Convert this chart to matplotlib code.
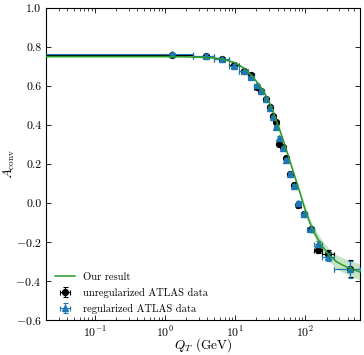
import matplotlib
matplotlib.use("Agg")
import matplotlib.pyplot as plt
import numpy as np

plt.rcParams['font.family'] = 'serif'
plt.rcParams['font.serif'] = ['cmr10']
plt.rcParams['mathtext.fontset'] = 'cm'
plt.rcParams['axes.formatter.use_mathtext'] = True
plt.rcParams['axes.unicode_minus'] = True

# bin edges (GeV)
edges = [0.0, 2.5, 5.0, 8.0, 11.4, 14.9, 18.6, 21.5, 25.5, 29.0, 32.6, 36.0, 40.0,
         44.4, 50.2, 56.4, 63.9, 73.4, 85.4, 105.0, 132.0, 173.0, 253.0, 600.0]

# regularized ATLAS data
reg_A = [0.765, 0.757, 0.739, 0.706, 0.677, 0.645, 0.605, 0.577, 0.535, 0.490, 0.440,
         0.392, 0.336, 0.281, 0.221, 0.148, 0.085, 0.002, -0.057, -0.135, -0.212,
         -0.278, -0.341]
reg_err = [0.006, 0.006, 0.006, 0.006, 0.006, 0.006, 0.007, 0.007, 0.007, 0.007, 0.008,
           0.008, 0.008, 0.008, 0.009, 0.009, 0.010, 0.010, 0.011, 0.012, 0.016,
           0.022, 0.045]

# unregularized ATLAS data
unreg_A = [0.760, 0.757, 0.740, 0.708, 0.679, 0.655, 0.595, 0.577, 0.533, 0.492, 0.445,
           0.415, 0.302, 0.285, 0.233, 0.150, 0.092, -0.010, -0.057, -0.135, -0.243,
           -0.265, -0.338]
unreg_err = [0.006, 0.006, 0.006, 0.006, 0.006, 0.006, 0.007, 0.007, 0.007, 0.007, 0.008,
             0.008, 0.008, 0.008, 0.009, 0.009, 0.010, 0.010, 0.011, 0.012, 0.016,
             0.022, 0.045]

# theory curve
curve_Q = [0.02, 0.5, 1.0, 2.0, 3.0, 5.0, 6.5, 10.0, 13.3, 17.0, 20.0, 24.0, 27.5, 32.0,
           36.0, 42.0, 50.0, 60.0, 73.0, 83.0, 98.0, 115.0, 128.0, 150.0, 178.0, 220.0,
           277.0, 350.0, 425.0, 510.0, 600.0]
curve_A = [0.752, 0.752, 0.752, 0.751, 0.749, 0.745, 0.740, 0.720, 0.692, 0.655, 0.624,
           0.585, 0.550, 0.500, 0.452, 0.385, 0.305, 0.215, 0.118, 0.055, -0.030,
           -0.100, -0.139, -0.185, -0.228, -0.270, -0.302, -0.322, -0.335, -0.346, -0.355]
curve_err = [0.003, 0.003, 0.003, 0.003, 0.003, 0.004, 0.004, 0.004, 0.005, 0.005, 0.006,
             0.006, 0.007, 0.007, 0.008, 0.009, 0.010, 0.011, 0.013, 0.015, 0.018,
             0.021, 0.023, 0.026, 0.029, 0.032, 0.035, 0.037, 0.039, 0.040, 0.041]

edges_a = np.array(edges)
centers = 0.5 * (edges_a[1:] + edges_a[:-1])
xlo = centers - edges_a[:-1]
xhi = edges_a[1:] - centers
xlo = np.minimum(xlo, centers - 1e-3)

fig = plt.figure(figsize=(3.64, 3.55), dpi=100)
ax = fig.add_axes([0.127, 0.0995, 0.862, 0.877])

cq = np.array(curve_Q)
ca = np.array(curve_A)
ce = np.array(curve_err)
green = '#2a9a2a'
ax.fill_between(cq, ca - ce, ca + ce, color='#9fd49f', alpha=0.6, lw=0, zorder=1)
ax.plot(cq, ca, color=green, lw=1.1, label='Our result', zorder=4)

ax.errorbar(centers, unreg_A, yerr=unreg_err, xerr=[xlo, xhi], fmt='o', color='black',
            ms=4.2, capsize=1.8, elinewidth=0.8, capthick=0.8, zorder=2,
            label='unregularized ATLAS data')
ax.errorbar(centers, reg_A, yerr=reg_err, xerr=[xlo, xhi], fmt='^', color='#1f77b4',
            ms=4.2, capsize=1.8, elinewidth=0.8, capthick=0.8, zorder=3,
            label='regularized ATLAS data')

ax.set_xscale('log')
ax.set_xlim(0.02, 600)
ax.set_ylim(-0.6, 1.0)
ax.set_yticks([-0.6, -0.4, -0.2, 0.0, 0.2, 0.4, 0.6, 0.8, 1.0])
ax.set_yticklabels(['$-0.6$', '$-0.4$', '$-0.2$', '0.0', '0.2', '0.4', '0.6', '0.8', '1.0'])
ax.tick_params(which='both', direction='in', top=True, right=True, labelsize=8.5)
ax.tick_params(which='major', length=3.5, width=0.6)
ax.tick_params(which='minor', length=2, width=0.5)
for s in ax.spines.values():
    s.set_linewidth(0.8)

ax.set_xlabel('$Q_T$ (GeV)', fontsize=9.5)
ax.set_ylabel(r'$A_{\rm conv}$', fontsize=9.5)
ax.xaxis.set_label_coords(0.5, -0.052)
ax.yaxis.set_label_coords(-0.092, 0.5)

ax.legend(loc='lower left', frameon=False, fontsize=7.6, handlelength=1.9,
          handletextpad=0.7, borderaxespad=0.3, labelspacing=0.55,
          bbox_to_anchor=(0.005, -0.004))

fig.savefig('out.png', dpi=100)
